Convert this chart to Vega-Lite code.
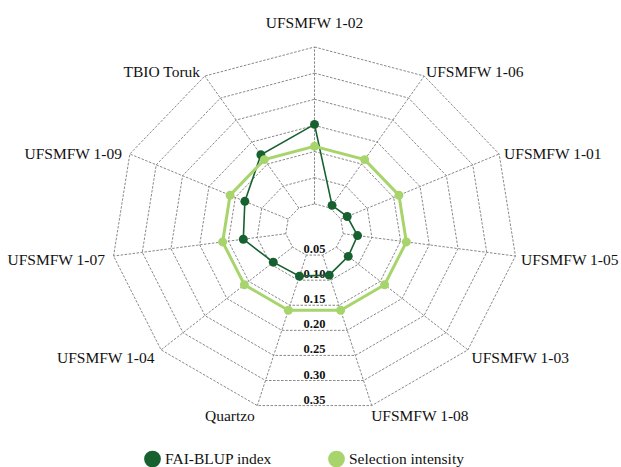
{
  "$schema": "https://vega.github.io/schema/vega-lite/v6.json",
  "width": 406,
  "height": 366,
  "autosize": {"type": "none"},
  "padding": {"left": 111.5, "top": 47, "right": 103.5, "bottom": 54},
  "background": "white",
  "config": {"view": {"stroke": null}, "font": "Liberation Serif", "legend": {"labelFont": "Liberation Serif"}},
  "datasets": {
    "genotypes": [
      {"genotype": "UFSMFW 1-02", "k": 0, "FAI-BLUP index": 0.202, "Selection intensity": 0.16},
      {"genotype": "UFSMFW 1-06", "k": 1, "FAI-BLUP index": 0.056, "Selection intensity": 0.16},
      {"genotype": "UFSMFW 1-01", "k": 2, "FAI-BLUP index": 0.062, "Selection intensity": 0.16},
      {"genotype": "UFSMFW 1-05", "k": 3, "FAI-BLUP index": 0.075, "Selection intensity": 0.16},
      {"genotype": "UFSMFW 1-03", "k": 4, "FAI-BLUP index": 0.077, "Selection intensity": 0.16},
      {"genotype": "UFSMFW 1-08", "k": 5, "FAI-BLUP index": 0.090, "Selection intensity": 0.16},
      {"genotype": "Quartzo", "k": 6, "FAI-BLUP index": 0.092, "Selection intensity": 0.16},
      {"genotype": "UFSMFW 1-04", "k": 7, "FAI-BLUP index": 0.094, "Selection intensity": 0.16},
      {"genotype": "UFSMFW 1-07", "k": 8, "FAI-BLUP index": 0.124, "Selection intensity": 0.16},
      {"genotype": "UFSMFW 1-09", "k": 9, "FAI-BLUP index": 0.132, "Selection intensity": 0.16},
      {"genotype": "TBIO Toruk", "k": 10, "FAI-BLUP index": 0.171, "Selection intensity": 0.16}
    ],
    "grid": [
      {"k": 0, "level": [0.05, 0.10, 0.15, 0.20, 0.25, 0.30, 0.35]},
      {"k": 1, "level": [0.05, 0.10, 0.15, 0.20, 0.25, 0.30, 0.35]},
      {"k": 2, "level": [0.05, 0.10, 0.15, 0.20, 0.25, 0.30, 0.35]},
      {"k": 3, "level": [0.05, 0.10, 0.15, 0.20, 0.25, 0.30, 0.35]},
      {"k": 4, "level": [0.05, 0.10, 0.15, 0.20, 0.25, 0.30, 0.35]},
      {"k": 5, "level": [0.05, 0.10, 0.15, 0.20, 0.25, 0.30, 0.35]},
      {"k": 6, "level": [0.05, 0.10, 0.15, 0.20, 0.25, 0.30, 0.35]},
      {"k": 7, "level": [0.05, 0.10, 0.15, 0.20, 0.25, 0.30, 0.35]},
      {"k": 8, "level": [0.05, 0.10, 0.15, 0.20, 0.25, 0.30, 0.35]},
      {"k": 9, "level": [0.05, 0.10, 0.15, 0.20, 0.25, 0.30, 0.35]},
      {"k": 10, "level": [0.05, 0.10, 0.15, 0.20, 0.25, 0.30, 0.35]}
    ]
  },
  "layer": [
    {
      "data": {"name": "grid"},
      "transform": [
        {"flatten": ["level"]},
        {"calculate": "2 * PI * datum.k / 11", "as": "a"},
        {"calculate": "datum.level * sin(datum.a)", "as": "px"},
        {"calculate": "datum.level * cos(datum.a)", "as": "py"}
      ],
      "mark": {"type": "line", "interpolate": "linear-closed", "stroke": "#7a7a7a", "strokeWidth": 0.9, "strokeDash": [2.5, 1.5]},
      "encoding": {
        "x": {"field": "px", "type": "quantitative", "scale": {"domain": [-0.35, 0.35], "nice": false, "zero": false}, "axis": null},
        "y": {"field": "py", "type": "quantitative", "scale": {"domain": [-0.35, 0.35], "nice": false, "zero": false}, "axis": null},
        "detail": {"field": "level", "type": "nominal"},
        "order": {"field": "k", "type": "quantitative"}
      }
    },
    {
      "data": {"name": "grid"},
      "transform": [
        {"flatten": ["level"]},
        {"calculate": "2 * PI * datum.k / 11", "as": "a"},
        {"calculate": "datum.level * sin(datum.a)", "as": "px"},
        {"calculate": "datum.level * cos(datum.a)", "as": "py"}
      ],
      "mark": {"type": "line", "stroke": "#7a7a7a", "strokeWidth": 0.9, "strokeDash": [2.5, 1.5]},
      "encoding": {
        "x": {"field": "px", "type": "quantitative"},
        "y": {"field": "py", "type": "quantitative"},
        "detail": {"field": "k", "type": "nominal"},
        "order": {"field": "level", "type": "quantitative"}
      }
    },
    {
      "data": {"name": "grid"},
      "transform": [
        {"flatten": ["level"]},
        {"filter": "datum.k == 0"},
        {"calculate": "-datum.level * cos(PI / 11)", "as": "py"},
        {"calculate": "0", "as": "px"}
      ],
      "mark": {"type": "text", "font": "Liberation Serif", "fontWeight": "bold", "fontSize": 12.5, "color": "#111", "align": "center", "baseline": "alphabetic", "dy": -2},
      "encoding": {
        "x": {"field": "px", "type": "quantitative"},
        "y": {"field": "py", "type": "quantitative"},
        "text": {"field": "level", "type": "quantitative", "format": ".2f"}
      }
    },
    {
      "data": {"name": "genotypes"},
      "transform": [
        {"calculate": "2 * PI * datum.k / 11", "as": "a"},
        {"calculate": "datum['FAI-BLUP index'] * sin(datum.a)", "as": "px"},
        {"calculate": "datum['FAI-BLUP index'] * cos(datum.a)", "as": "py"}
      ],
      "mark": {"type": "line", "interpolate": "linear-closed", "stroke": "#17602f", "strokeWidth": 1.6},
      "encoding": {
        "x": {"field": "px", "type": "quantitative"},
        "y": {"field": "py", "type": "quantitative"},
        "order": {"field": "k", "type": "quantitative"}
      }
    },
    {
      "data": {"name": "genotypes"},
      "transform": [
        {"calculate": "2 * PI * datum.k / 11", "as": "a"},
        {"calculate": "datum['Selection intensity'] * sin(datum.a)", "as": "px"},
        {"calculate": "datum['Selection intensity'] * cos(datum.a)", "as": "py"}
      ],
      "mark": {"type": "line", "interpolate": "linear-closed", "stroke": "#a8d46c", "strokeWidth": 3},
      "encoding": {
        "x": {"field": "px", "type": "quantitative"},
        "y": {"field": "py", "type": "quantitative"},
        "order": {"field": "k", "type": "quantitative"}
      }
    },
    {
      "data": {"name": "genotypes"},
      "transform": [
        {"fold": ["FAI-BLUP index", "Selection intensity"], "as": ["series", "value"]},
        {"calculate": "2 * PI * datum.k / 11", "as": "a"},
        {"calculate": "datum.value * sin(datum.a)", "as": "px"},
        {"calculate": "datum.value * cos(datum.a)", "as": "py"}
      ],
      "mark": {"type": "circle", "size": 80, "opacity": 1},
      "encoding": {
        "x": {"field": "px", "type": "quantitative"},
        "y": {"field": "py", "type": "quantitative"},
        "fill": {
          "field": "series", "type": "nominal",
          "scale": {"domain": ["FAI-BLUP index", "Selection intensity"], "range": ["#17602f", "#a8d46c"]},
          "legend": {
            "orient": "none", "direction": "horizontal", "legendX": 32.5, "legendY": 403.5,
            "title": null, "symbolType": "circle", "symbolSize": 280, "symbolStrokeWidth": 0,
            "labelFont": "Liberation Serif", "labelFontSize": 15.5, "labelColor": "#111",
            "labelOffset": 4, "columnPadding": 56, "padding": 0,
            "labelLimit": 300,
            "encode": {"labels": {"update": {"font": {"value": "Liberation Serif"}, "fontSize": {"value": 15.5}}}}
          }
        }
      }
    },
    {
      "data": {"name": "genotypes"},
      "transform": [
        {"filter": "datum.k == 0"},
        {"calculate": "2 * PI * datum.k / 11", "as": "a"},
        {"calculate": "0.365 * sin(datum.a)", "as": "px"},
        {"calculate": "0.365 * cos(datum.a)", "as": "py"}
      ],
      "mark": {"type": "text", "font": "Liberation Serif", "fontSize": 15.5, "color": "#111", "align": "center", "baseline": "alphabetic", "dy": -11},
      "encoding": {
        "x": {"field": "px", "type": "quantitative"},
        "y": {"field": "py", "type": "quantitative"},
        "text": {"field": "genotype", "type": "nominal"}
      }
    },
    {
      "data": {"name": "genotypes"},
      "transform": [
        {"calculate": "2 * PI * datum.k / 11", "as": "a"},
        {"filter": "sin(datum.a) > 0.01"},
        {"calculate": "0.365 * sin(datum.a)", "as": "px"},
        {"calculate": "0.365 * cos(datum.a)", "as": "py"}
      ],
      "mark": {"type": "text", "font": "Liberation Serif", "fontSize": 15.5, "color": "#111", "align": "left", "baseline": "middle", "dx": -3, "dy": 3},
      "encoding": {
        "x": {"field": "px", "type": "quantitative"},
        "y": {"field": "py", "type": "quantitative"},
        "text": {"field": "genotype", "type": "nominal"}
      }
    },
    {
      "data": {"name": "genotypes"},
      "transform": [
        {"calculate": "2 * PI * datum.k / 11", "as": "a"},
        {"filter": "sin(datum.a) < -0.01"},
        {"calculate": "0.365 * sin(datum.a)", "as": "px"},
        {"calculate": "0.365 * cos(datum.a)", "as": "py"}
      ],
      "mark": {"type": "text", "font": "Liberation Serif", "fontSize": 15.5, "color": "#111", "align": "right", "baseline": "middle", "dx": 0, "dy": 3},
      "encoding": {
        "x": {"field": "px", "type": "quantitative"},
        "y": {"field": "py", "type": "quantitative"},
        "text": {"field": "genotype", "type": "nominal"}
      }
    }
  ]
}
